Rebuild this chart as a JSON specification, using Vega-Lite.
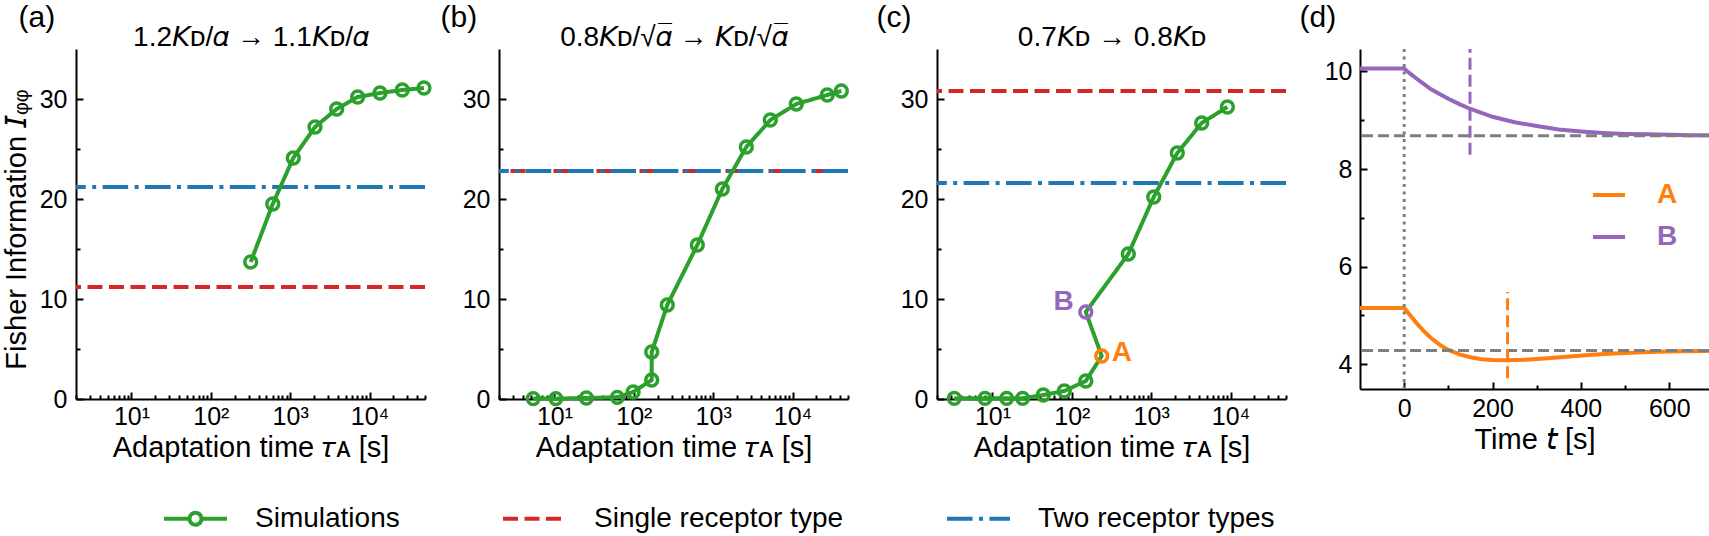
{
  "$schema": "https://vega.github.io/schema/vega-lite/v6.json",
  "background": "white",
  "padding": {"left": 2, "top": 2, "right": 0, "bottom": 0},
  "autosize": {"type": "pad"},
  "datasets": {
    "sims": [
      {"panel": "a", "ord": 0, "tau": 318, "info": 13.7, "series": "Simulations", "tag": ""},
      {"panel": "a", "ord": 1, "tau": 603, "info": 19.5, "series": "Simulations", "tag": ""},
      {"panel": "a", "ord": 2, "tau": 1094, "info": 24.1, "series": "Simulations", "tag": ""},
      {"panel": "a", "ord": 3, "tau": 2055, "info": 27.2, "series": "Simulations", "tag": ""},
      {"panel": "a", "ord": 4, "tau": 3856, "info": 29.0, "series": "Simulations", "tag": ""},
      {"panel": "a", "ord": 5, "tau": 7090, "info": 30.2, "series": "Simulations", "tag": ""},
      {"panel": "a", "ord": 6, "tau": 13550, "info": 30.6, "series": "Simulations", "tag": ""},
      {"panel": "a", "ord": 7, "tau": 25860, "info": 30.9, "series": "Simulations", "tag": ""},
      {"panel": "a", "ord": 8, "tau": 48500, "info": 31.1, "series": "Simulations", "tag": ""},
      {"panel": "b", "ord": 0, "tau": 5.4, "info": 0.04, "series": "Simulations", "tag": ""},
      {"panel": "b", "ord": 1, "tau": 10.4, "info": 0.04, "series": "Simulations", "tag": ""},
      {"panel": "b", "ord": 2, "tau": 25.2, "info": 0.1, "series": "Simulations", "tag": ""},
      {"panel": "b", "ord": 3, "tau": 62, "info": 0.17, "series": "Simulations", "tag": ""},
      {"panel": "b", "ord": 4, "tau": 98, "info": 0.7, "series": "Simulations", "tag": ""},
      {"panel": "b", "ord": 5, "tau": 168, "info": 1.9, "series": "Simulations", "tag": ""},
      {"panel": "b", "ord": 6, "tau": 168, "info": 4.7, "series": "Simulations", "tag": ""},
      {"panel": "b", "ord": 7, "tau": 264, "info": 9.4, "series": "Simulations", "tag": ""},
      {"panel": "b", "ord": 8, "tau": 631, "info": 15.4, "series": "Simulations", "tag": ""},
      {"panel": "b", "ord": 9, "tau": 1304, "info": 21.0, "series": "Simulations", "tag": ""},
      {"panel": "b", "ord": 10, "tau": 2616, "info": 25.2, "series": "Simulations", "tag": ""},
      {"panel": "b", "ord": 11, "tau": 5250, "info": 27.9, "series": "Simulations", "tag": ""},
      {"panel": "b", "ord": 12, "tau": 11160, "info": 29.5, "series": "Simulations", "tag": ""},
      {"panel": "b", "ord": 13, "tau": 27400, "info": 30.4, "series": "Simulations", "tag": ""},
      {"panel": "b", "ord": 14, "tau": 41200, "info": 30.8, "series": "Simulations", "tag": ""},
      {"panel": "c", "ord": 0, "tau": 3.3, "info": 0.07, "series": "Simulations", "tag": ""},
      {"panel": "c", "ord": 1, "tau": 8.05, "info": 0.07, "series": "Simulations", "tag": ""},
      {"panel": "c", "ord": 2, "tau": 15.1, "info": 0.07, "series": "Simulations", "tag": ""},
      {"panel": "c", "ord": 3, "tau": 24.0, "info": 0.07, "series": "Simulations", "tag": ""},
      {"panel": "c", "ord": 4, "tau": 43.7, "info": 0.4, "series": "Simulations", "tag": ""},
      {"panel": "c", "ord": 5, "tau": 80.4, "info": 0.8, "series": "Simulations", "tag": ""},
      {"panel": "c", "ord": 6, "tau": 150, "info": 1.8, "series": "Simulations", "tag": ""},
      {"panel": "c", "ord": 7, "tau": 238, "info": 4.3, "series": "Simulations", "tag": "A"},
      {"panel": "c", "ord": 8, "tau": 150, "info": 8.7, "series": "Simulations", "tag": "B"},
      {"panel": "c", "ord": 9, "tau": 515, "info": 14.5, "series": "Simulations", "tag": ""},
      {"panel": "c", "ord": 10, "tau": 1077, "info": 20.2, "series": "Simulations", "tag": ""},
      {"panel": "c", "ord": 11, "tau": 2133, "info": 24.6, "series": "Simulations", "tag": ""},
      {"panel": "c", "ord": 12, "tau": 4330, "info": 27.6, "series": "Simulations", "tag": ""},
      {"panel": "c", "ord": 13, "tau": 9120, "info": 29.2, "series": "Simulations", "tag": ""}
    ],
    "levels": [
      {"panel": "a", "series": "Single receptor type", "value": 11.2},
      {"panel": "a", "series": "Two receptor types", "value": 21.2},
      {"panel": "b", "series": "Single receptor type", "value": 22.8},
      {"panel": "b", "series": "Two receptor types", "value": 22.8},
      {"panel": "c", "series": "Single receptor type", "value": 30.8},
      {"panel": "c", "series": "Two receptor types", "value": 21.6}
    ],
    "traces": [
      {"s": "B", "t": -100, "v": 10.06}, {"s": "B", "t": 0, "v": 10.06}, {"s": "B", "t": 10, "v": 9.98},
      {"s": "B", "t": 20, "v": 9.91}, {"s": "B", "t": 30, "v": 9.84}, {"s": "B", "t": 45, "v": 9.74},
      {"s": "B", "t": 60, "v": 9.64}, {"s": "B", "t": 80, "v": 9.54}, {"s": "B", "t": 100, "v": 9.44},
      {"s": "B", "t": 125, "v": 9.33}, {"s": "B", "t": 150, "v": 9.23}, {"s": "B", "t": 175, "v": 9.15},
      {"s": "B", "t": 200, "v": 9.07}, {"s": "B", "t": 250, "v": 8.96}, {"s": "B", "t": 300, "v": 8.88},
      {"s": "B", "t": 350, "v": 8.81}, {"s": "B", "t": 400, "v": 8.77}, {"s": "B", "t": 450, "v": 8.74},
      {"s": "B", "t": 500, "v": 8.72}, {"s": "B", "t": 550, "v": 8.71}, {"s": "B", "t": 600, "v": 8.70},
      {"s": "B", "t": 650, "v": 8.69}, {"s": "B", "t": 690, "v": 8.69},
      {"s": "A", "t": -100, "v": 5.15}, {"s": "A", "t": 0, "v": 5.15}, {"s": "A", "t": 10, "v": 5.04},
      {"s": "A", "t": 20, "v": 4.93}, {"s": "A", "t": 30, "v": 4.82}, {"s": "A", "t": 45, "v": 4.67},
      {"s": "A", "t": 60, "v": 4.54}, {"s": "A", "t": 80, "v": 4.40}, {"s": "A", "t": 100, "v": 4.29},
      {"s": "A", "t": 125, "v": 4.20}, {"s": "A", "t": 150, "v": 4.14}, {"s": "A", "t": 175, "v": 4.10},
      {"s": "A", "t": 200, "v": 4.085}, {"s": "A", "t": 234, "v": 4.08}, {"s": "A", "t": 275, "v": 4.09},
      {"s": "A", "t": 325, "v": 4.12}, {"s": "A", "t": 375, "v": 4.155}, {"s": "A", "t": 425, "v": 4.19},
      {"s": "A", "t": 475, "v": 4.22}, {"s": "A", "t": 525, "v": 4.24}, {"s": "A", "t": 575, "v": 4.255},
      {"s": "A", "t": 625, "v": 4.265}, {"s": "A", "t": 690, "v": 4.27}
    ],
    "settle": [{"v": 8.68}, {"v": 4.28}],
    "onset": [{"t": 0}],
    "taus": [
      {"s": "A", "t": 234, "lo": 3.71, "hi": 5.48},
      {"s": "B", "t": 149, "lo": 8.29, "hi": 10.46}
    ]
  },
  "bounds": "full",
  "spacing": 21,
  "hconcat": [
    {
      "bounds": "full",
      "spacing": 3,
      "hconcat": [
        {
          "width": 349,
          "height": 350,
          "resolve": {"axis": {"x": "independent", "y": "independent"}},
          "layer": [
            {
              "data": {"name": "levels"},
              "transform": [{"filter": "datum.panel === 'a'"}],
              "mark": {"type": "rule", "strokeWidth": 4},
              "encoding": {
                "y": {"field": "value", "type": "quantitative", "scale": {"domain": [0, 35], "nice": false},
                      "axis": {"orient": "left", "values": [0, 10, 20, 30], "tickSize": -7, "labelPadding": 16,
                               "encode": {"domain": {"update": {"y2": {"value": 10}}}},
                               "title": "Fisher Information 𝘐ᵩᵩ", "titleX": -74, "titleY": 180,
                               "titleAngle": 270, "titleAlign": "center", "titleBaseline": "top", "titleFontSize": 29}},
                "color": {"field": "series", "type": "nominal",
                          "scale": {"domain": ["Simulations", "Single receptor type", "Two receptor types"], "range": ["#2ca02c", "#d62728", "#1f77b4"]},
                          "legend": {"orient": "none", "legendX": 86, "legendY": 436, "direction": "horizontal", "title": null,
                                     "symbolType": "stroke", "symbolSize": 3969, "symbolStrokeWidth": 4,
                                     "labelFontSize": 28, "labelColor": "black", "labelOffset": 26, "labelLimit": 400,
                                     "columnPadding": 95, "padding": 0,
                                     "encode": {"symbols": {"update": {
                                       "shape": {"signal": "datum.value === 'Simulations' ? 'M-1,0H-0.19M0.19,0H1M-0.19,0A0.19,0.19,0,1,0,0.19,0A0.19,0.19,0,1,0,-0.19,0' : 'stroke'"},
                                       "fill": {"value": "transparent"}}}}}},
                "strokeDash": {"field": "series", "type": "nominal",
                               "scale": {"domain": ["Simulations", "Single receptor type", "Two receptor types"], "range": [[1, 0], [15, 6.5], [25.6, 6.4, 4, 6.4]]},
                               "legend": {"orient": "none", "legendX": 86, "legendY": 436, "direction": "horizontal", "title": null,
                                          "symbolType": "stroke", "symbolSize": 3969, "symbolStrokeWidth": 4,
                                          "labelFontSize": 28, "labelColor": "black", "labelOffset": 26, "labelLimit": 400,
                                          "columnPadding": 95, "padding": 0}}
              }
            },
            {
              "data": {"name": "sims"},
              "transform": [{"filter": "datum.panel === 'a'"}],
              "mark": {"type": "line", "strokeWidth": 4},
              "encoding": {
                "x": {"field": "tau", "type": "quantitative", "scale": {"type": "log", "domain": [2, 50000], "nice": false},
                      "axis": {"orient": "bottom", "values": [10, 100, 1000, 10000], "tickSize": -7, "labelPadding": 12,
                               "labelExpr": "datum.value == 10 ? '10¹' : datum.value == 100 ? '10²' : datum.value == 1000 ? '10³' : '10⁴'",
                               "title": "Adaptation time 𝜏ᴀ [s]", "titlePadding": 4}},
                "y": {"field": "info", "type": "quantitative", "scale": {"domain": [0, 35], "nice": false},
                      "axis": {"orient": "left", "values": [5, 15, 25], "tickSize": -4, "labels": false, "domain": false,
                               "title": "1.2𝘒ᴅ/𝛼 → 1.1𝘒ᴅ/𝛼", "titleX": 174.5, "titleY": -4, "titleAngle": 0,
                               "titleAlign": "center", "titleBaseline": "alphabetic", "titleFontSize": 28}},
                "order": {"field": "ord", "type": "quantitative"},
                "color": {"field": "series", "type": "nominal"},
                "strokeDash": {"field": "series", "type": "nominal"}
              }
            },
            {
              "data": {"name": "sims"},
              "transform": [{"filter": "datum.panel === 'a'"}],
              "mark": {"type": "point", "filled": false, "size": 140, "strokeWidth": 3.5, "opacity": 1},
              "encoding": {
                "x": {"field": "tau", "type": "quantitative", "scale": {"type": "log", "domain": [2, 50000], "nice": false},
                      "axis": {"orient": "bottom", "values": [2, 3, 4, 5, 6, 7, 8, 9, 20, 30, 40, 50, 60, 70, 80, 90, 200, 300, 400, 500, 600, 700, 800, 900, 2000, 3000, 4000, 5000, 6000, 7000, 8000, 9000, 20000, 30000, 40000, 50000],
                               "tickSize": -4, "labels": false, "domain": false,
                               "title": "(a)", "titleX": -58, "titleY": -397, "titleAlign": "left", "titleBaseline": "top", "titleFontSize": 30}},
                "y": {"field": "info", "type": "quantitative", "axis": null},
                "color": {"value": "#2ca02c"}
              }
            }
          ]
        },
        {
          "width": 349,
          "height": 350,
          "resolve": {"axis": {"x": "independent", "y": "independent"}},
          "layer": [
            {
              "data": {"name": "levels"},
              "transform": [{"filter": "datum.panel === 'b'"}],
              "mark": {"type": "rule", "strokeWidth": 4},
              "encoding": {
                "y": {"field": "value", "type": "quantitative", "scale": {"domain": [0, 35], "nice": false},
                      "axis": {"orient": "left", "values": [0, 10, 20, 30], "tickSize": -7, "labelPadding": 16, "title": null,
                               "encode": {"domain": {"update": {"y2": {"value": 10}}}}}},
                "color": {"field": "series", "type": "nominal"},
                "strokeDash": {"field": "series", "type": "nominal"}
              }
            },
            {
              "data": {"name": "sims"},
              "transform": [{"filter": "datum.panel === 'b'"}],
              "mark": {"type": "line", "strokeWidth": 4},
              "encoding": {
                "x": {"field": "tau", "type": "quantitative", "scale": {"type": "log", "domain": [2, 50000], "nice": false},
                      "axis": {"orient": "bottom", "values": [10, 100, 1000, 10000], "tickSize": -7, "labelPadding": 12,
                               "labelExpr": "datum.value == 10 ? '10¹' : datum.value == 100 ? '10²' : datum.value == 1000 ? '10³' : '10⁴'",
                               "title": "Adaptation time 𝜏ᴀ [s]", "titlePadding": 4}},
                "y": {"field": "info", "type": "quantitative", "scale": {"domain": [0, 35], "nice": false},
                      "axis": {"orient": "left", "values": [5, 15, 25], "tickSize": -4, "labels": false, "domain": false,
                               "title": "0.8𝘒ᴅ/√𝛼̅ → 𝘒ᴅ/√𝛼̅", "titleX": 174.5, "titleY": -4, "titleAngle": 0,
                               "titleAlign": "center", "titleBaseline": "alphabetic", "titleFontSize": 28}},
                "order": {"field": "ord", "type": "quantitative"},
                "color": {"field": "series", "type": "nominal"},
                "strokeDash": {"field": "series", "type": "nominal"}
              }
            },
            {
              "data": {"name": "sims"},
              "transform": [{"filter": "datum.panel === 'b'"}],
              "mark": {"type": "point", "filled": false, "size": 140, "strokeWidth": 3.5, "opacity": 1},
              "encoding": {
                "x": {"field": "tau", "type": "quantitative", "scale": {"type": "log", "domain": [2, 50000], "nice": false},
                      "axis": {"orient": "bottom", "values": [2, 3, 4, 5, 6, 7, 8, 9, 20, 30, 40, 50, 60, 70, 80, 90, 200, 300, 400, 500, 600, 700, 800, 900, 2000, 3000, 4000, 5000, 6000, 7000, 8000, 9000, 20000, 30000, 40000, 50000],
                               "tickSize": -4, "labels": false, "domain": false,
                               "title": "(b)", "titleX": -59, "titleY": -397, "titleAlign": "left", "titleBaseline": "top", "titleFontSize": 30}},
                "y": {"field": "info", "type": "quantitative", "axis": null},
                "color": {"value": "#2ca02c"}
              }
            }
          ]
        }
      ]
    },
    {
      "bounds": "full",
      "spacing": 11,
      "hconcat": [
        {
          "width": 349,
          "height": 350,
          "resolve": {"axis": {"x": "independent", "y": "independent"}},
          "layer": [
            {
              "data": {"name": "levels"},
              "transform": [{"filter": "datum.panel === 'c'"}],
              "mark": {"type": "rule", "strokeWidth": 4},
              "encoding": {
                "y": {"field": "value", "type": "quantitative", "scale": {"domain": [0, 35], "nice": false},
                      "axis": {"orient": "left", "values": [0, 10, 20, 30], "tickSize": -7, "labelPadding": 16, "title": null,
                               "encode": {"domain": {"update": {"y2": {"value": 10}}}}}},
                "color": {"field": "series", "type": "nominal"},
                "strokeDash": {"field": "series", "type": "nominal"}
              }
            },
            {
              "data": {"name": "sims"},
              "transform": [{"filter": "datum.panel === 'c'"}],
              "mark": {"type": "line", "strokeWidth": 4},
              "encoding": {
                "x": {"field": "tau", "type": "quantitative", "scale": {"type": "log", "domain": [2, 50000], "nice": false},
                      "axis": {"orient": "bottom", "values": [10, 100, 1000, 10000], "tickSize": -7, "labelPadding": 12,
                               "labelExpr": "datum.value == 10 ? '10¹' : datum.value == 100 ? '10²' : datum.value == 1000 ? '10³' : '10⁴'",
                               "title": "Adaptation time 𝜏ᴀ [s]", "titlePadding": 4}},
                "y": {"field": "info", "type": "quantitative", "scale": {"domain": [0, 35], "nice": false},
                      "axis": {"orient": "left", "values": [5, 15, 25], "tickSize": -4, "labels": false, "domain": false,
                               "title": "0.7𝘒ᴅ → 0.8𝘒ᴅ", "titleX": 174.5, "titleY": -4, "titleAngle": 0,
                               "titleAlign": "center", "titleBaseline": "alphabetic", "titleFontSize": 28}},
                "order": {"field": "ord", "type": "quantitative"},
                "color": {"field": "series", "type": "nominal"},
                "strokeDash": {"field": "series", "type": "nominal"}
              }
            },
            {
              "data": {"name": "sims"},
              "transform": [{"filter": "datum.panel === 'c'"}],
              "mark": {"type": "point", "filled": false, "size": 140, "strokeWidth": 3.5, "opacity": 1},
              "encoding": {
                "x": {"field": "tau", "type": "quantitative", "scale": {"type": "log", "domain": [2, 50000], "nice": false},
                      "axis": {"orient": "bottom", "values": [2, 3, 4, 5, 6, 7, 8, 9, 20, 30, 40, 50, 60, 70, 80, 90, 200, 300, 400, 500, 600, 700, 800, 900, 2000, 3000, 4000, 5000, 6000, 7000, 8000, 9000, 20000, 30000, 40000, 50000],
                               "tickSize": -4, "labels": false, "domain": false,
                               "title": "(c)", "titleX": -61, "titleY": -397, "titleAlign": "left", "titleBaseline": "top", "titleFontSize": 30}},
                "y": {"field": "info", "type": "quantitative", "axis": null},
                "color": {"condition": [{"test": "datum.tag === 'A'", "value": "#ff7f0e"}, {"test": "datum.tag === 'B'", "value": "#9467bd"}], "value": "#2ca02c"}
              }
            },
            {
              "data": {"name": "sims"},
              "transform": [{"filter": "datum.panel === 'c' && datum.tag === 'A'"}],
              "mark": {"type": "text", "align": "left", "baseline": "middle", "dx": 10, "dy": -3, "fontSize": 28, "fontWeight": "bold", "color": "#ff7f0e"},
              "encoding": {
                "x": {"field": "tau", "type": "quantitative", "axis": null},
                "y": {"field": "info", "type": "quantitative", "axis": null},
                "text": {"field": "tag"}
              }
            },
            {
              "data": {"name": "sims"},
              "transform": [{"filter": "datum.panel === 'c' && datum.tag === 'B'"}],
              "mark": {"type": "text", "align": "right", "baseline": "middle", "dx": -12, "dy": -10, "fontSize": 28, "fontWeight": "bold", "color": "#9467bd"},
              "encoding": {
                "x": {"field": "tau", "type": "quantitative", "axis": null},
                "y": {"field": "info", "type": "quantitative", "axis": null},
                "text": {"field": "tag"}
              }
            }
          ]
        },
        {
          "width": 349,
          "height": 340,
          "resolve": {"axis": {"x": "independent", "y": "independent"}},
          "layer": [
            {
              "data": {"name": "traces"},
              "mark": {"type": "line", "strokeWidth": 4},
              "encoding": {
                "x": {"field": "t", "type": "quantitative", "scale": {"domain": [-100, 690], "nice": false, "zero": false},
                      "axis": {"orient": "bottom", "values": [0, 200, 400, 600], "tickSize": -7, "labelPadding": 14, "title": "Time 𝘵 [s]", "titlePadding": 4}},
                "y": {"field": "v", "type": "quantitative", "scale": {"domain": [3.49, 10.46], "nice": false, "zero": false},
                      "axis": {"orient": "left", "values": [4, 6, 8, 10], "tickSize": -7, "labelPadding": 15, "title": null}},
                "stroke": {"field": "s", "type": "nominal", "scale": {"domain": ["A", "B"], "range": ["#ff7f0e", "#9467bd"]},
                           "legend": {"orient": "none", "legendX": 1517, "legendY": 125, "title": null, "direction": "vertical",
                                      "symbolType": "M-2.07,0H2.07", "symbolSize": 900, "symbolStrokeWidth": 4, "symbolOffset": -16,
                                      "clipHeight": 42, "rowPadding": 0,
                                      "labelFontSize": 28, "labelFontWeight": "bold", "labelOffset": 46, "padding": 0,
                                      "encode": {"symbols": {"update": {"fill": {"value": "transparent"}}},
                                                 "labels": {"update": {"fill": {"signal": "datum.value === 'A' ? '#ff7f0e' : '#9467bd'"}}}}}}
              }
            },
            {
              "data": {"name": "settle"},
              "mark": {"type": "rule", "color": "#7f7f7f", "strokeWidth": 3, "strokeDash": [11, 5]},
              "encoding": {"y": {"field": "v", "type": "quantitative", "axis": null}}
            },
            {
              "data": {"name": "onset"},
              "mark": {"type": "rule", "color": "#7f7f7f", "strokeWidth": 3, "strokeDash": [3, 4.5]},
              "encoding": {"x": {"field": "t", "type": "quantitative", "axis": null}}
            },
            {
              "data": {"name": "taus"},
              "mark": {"type": "rule", "strokeWidth": 3, "strokeDash": [12, 5]},
              "encoding": {
                "x": {"field": "t", "type": "quantitative",
                      "axis": {"orient": "bottom", "values": [100, 300, 500], "tickSize": -4, "labels": false, "domain": false,
                               "title": "(d)", "titleX": -61, "titleY": -387, "titleAlign": "left", "titleBaseline": "top", "titleFontSize": 30}},
                "y": {"field": "lo", "type": "quantitative",
                      "axis": {"orient": "left", "values": [5, 7, 9], "tickSize": -4, "labels": false, "domain": false, "title": null}},
                "y2": {"field": "hi"},
                "color": {"condition": {"test": "datum.s === 'A'", "value": "#ff7f0e"}, "value": "#9467bd"}
              }
            }
          ]
        }
      ]
    }
  ],
  "config": {
    "font": "Liberation Sans",
    "view": {"stroke": null},
    "axis": {
      "grid": false, "domainColor": "black", "domainWidth": 2, "tickColor": "black", "tickWidth": 2,
      "labelFont": "Liberation Sans", "labelFontSize": 25, "labelColor": "black", "labelFlush": false, "labelOverlap": false,
      "titleFont": "Liberation Sans", "titleFontSize": 29, "titleFontWeight": "normal", "titleColor": "black"
    },
    "legend": {"labelFont": "Liberation Sans", "labelColor": "black"}
  }
}
